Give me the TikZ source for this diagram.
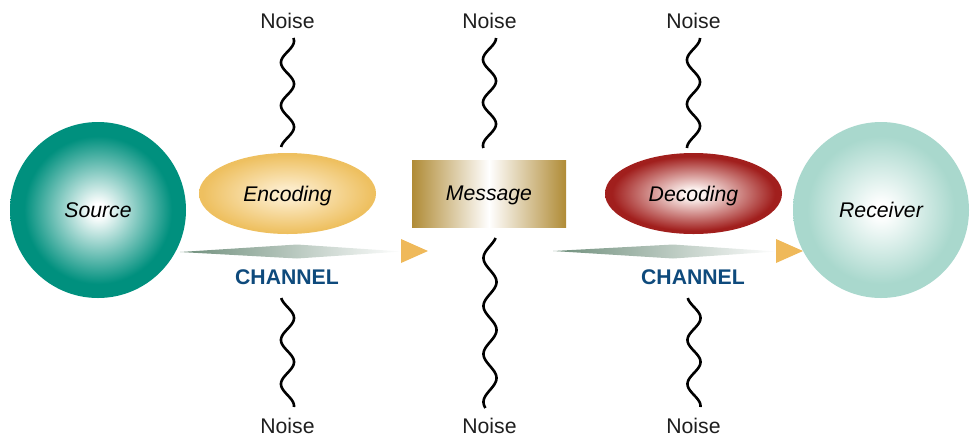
\documentclass[tikz,border=0pt]{standalone}
\usepackage{fontspec}
\setmainfont{Liberation Sans}
\usetikzlibrary{shapes.geometric}
\definecolor{srcteal}{HTML}{00907E}
\definecolor{rcvteal}{HTML}{A9D8CD}
\definecolor{encgold}{HTML}{EEC060}
\definecolor{enclight}{HTML}{FCEBC8}
\definecolor{decred}{HTML}{A11F1D}
\definecolor{declight}{HTML}{FDF3F0}
\definecolor{msggold}{HTML}{B08B36}
\definecolor{chandark}{HTML}{6E8E7B}
\definecolor{arroworange}{HTML}{EFB95A}
\definecolor{chanblue}{HTML}{0E4A7C}
\definecolor{noisegray}{HTML}{1E1E1E}
\pgfdeclareradialshading{srcshade}{\pgfpointorigin}{color(0bp)=(white); color(2bp)=(white); color(21bp)=(srcteal); color(25bp)=(srcteal); color(50bp)=(srcteal)}
\pgfdeclareradialshading{rcvshade}{\pgfpointorigin}{color(0bp)=(white); color(2bp)=(white); color(21bp)=(rcvteal); color(25bp)=(rcvteal); color(50bp)=(rcvteal)}
\pgfdeclareradialshading{encshade}{\pgfpointorigin}{color(0bp)=(enclight); color(4bp)=(enclight); color(24bp)=(encgold); color(25bp)=(encgold); color(50bp)=(encgold)}
\pgfdeclareradialshading{decshade}{\pgfpointorigin}{color(0bp)=(declight); color(3bp)=(declight); color(23bp)=(decred); color(25bp)=(decred); color(50bp)=(decred)}
\pgfdeclarehorizontalshading{msgshade}{100bp}{color(0bp)=(msggold); color(25bp)=(msggold); color(50bp)=(white); color(75bp)=(msggold); color(100bp)=(msggold)}
\pgfdeclarehorizontalshading{chanshade}{100bp}{color(0bp)=(chandark); color(25bp)=(chandark); color(75bp)=(white); color(100bp)=(white)}
\begin{document}
\begin{tikzpicture}[x=0.5pt,y=-0.5pt,
  font=\fontsize{10.6}{12}\selectfont,
  shapebox/.style={inner sep=0pt, text depth=0pt, font=\fontsize{10.6}{12}\selectfont\itshape},
  noiselabel/.style={inner sep=0pt, text=noisegray},
  chanlabel/.style={inner sep=0pt, text=chanblue, font=\fontsize{10.6}{12}\selectfont\bfseries},
  wave/.style={line width=1.3pt, black},
  tip/.style={fill=arroworange, draw=none}]
\useasboundingbox (0,0) rectangle (975,436);

% Noise waves
\draw[wave] plot[domain=38:147, samples=120, variable=\t] ({287.5+6.5*cos((\t-41)*8.372)}, {\t});
\draw[wave] plot[domain=38:148, samples=120, variable=\t] ({489.5+6.5*cos((\t-38)*8.372)}, {\t});
\draw[wave] plot[domain=38:148, samples=120, variable=\t] ({693.5+6.5*cos((\t-38)*8.182)}, {\t});
\draw[wave] plot[domain=298:407, samples=120, variable=\t] ({287.5-6.5*cos((\t-296)*8.182)}, {\t});
\draw[wave] plot[domain=238:408, samples=160, variable=\t] ({490+6.5*cos((\t-234)*7.5)}, {\t});
\draw[wave] plot[domain=298:407, samples=120, variable=\t] ({694-6.5*cos((\t-296)*8.182)}, {\t});

% Noise labels
\node[noiselabel] (n1t) at (287.5,20.5) {Noise};
\node[noiselabel] (n2t) at (489.5,20.5) {Noise};
\node[noiselabel] (n3t) at (693.5,20.5) {Noise};
\node[noiselabel] (n1b) at (287.5,426) {Noise};
\node[noiselabel] (n2b) at (489.5,426) {Noise};
\node[noiselabel] (n3b) at (693.5,426) {Noise};

% Main shapes
\node[shapebox, circle, minimum size=88pt, shading=srcshade, shade] (source) at (98,210) {Source};
\node[shapebox, ellipse, minimum width=88.5pt, minimum height=40.5pt, shading=encshade, shade] (encoding) at (287.5,193.5) {Encoding};
\node[shapebox, rectangle, minimum width=77pt, minimum height=33.5pt, shading=msgshade, shade] (message) at (489,193.5) {Message};
\node[shapebox, ellipse, minimum width=88.5pt, minimum height=40.5pt, shading=decshade, shade] (decoding) at (693.5,193.5) {Decoding};
\node[shapebox, circle, minimum size=88pt, shading=rcvshade, shade] (receiver) at (881,210) {Receiver};

% Channels
\coordinate (c1a) at (180,252);
\coordinate (c1t) at (297,244.5);
\coordinate (c1e) at (402,251.5);
\coordinate (c1b) at (297,258.5);
\shade[shading=chanshade] (c1a) -- (c1t) -- (c1e) -- (c1b) -- cycle;
\coordinate (t1a) at (401,239);
\coordinate (t1t) at (428,251);
\coordinate (t1b) at (401,263);
\fill[tip] (t1a) -- (t1t) -- (t1b) -- cycle;

\coordinate (c2a) at (553,251);
\coordinate (c2t) at (673,244.5);
\coordinate (c2e) at (777,251.5);
\coordinate (c2b) at (673,258.5);
\shade[shading=chanshade] (c2a) -- (c2t) -- (c2e) -- (c2b) -- cycle;
\coordinate (t2a) at (776,239);
\coordinate (t2t) at (803,251);
\coordinate (t2b) at (776,263);
\fill[tip] (t2a) -- (t2t) -- (t2b) -- cycle;

\node[chanlabel] (ch1) at (287,277.5) {CHANNEL};
\node[chanlabel] (ch2) at (693,277.5) {CHANNEL};
\end{tikzpicture}
\end{document}
